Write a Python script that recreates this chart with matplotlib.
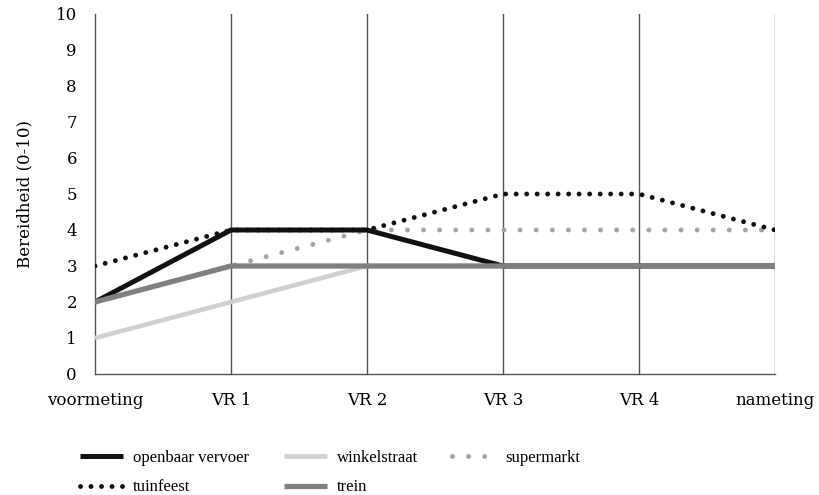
import matplotlib
matplotlib.use("Agg")
import matplotlib.pyplot as plt

categories = ["voormeting", "VR 1", "VR 2", "VR 3", "VR 4", "nameting"]
openbaar_vervoer = [2, 4, 4, 3, 3, 3]
winkelstraat = [1, 2, 3, 3, 3, 3]
supermarkt = [2, 3, 4, 4, 4, 4]
tuinfeest = [3, 4, 4, 5, 5, 4]
trein = [2, 3, 3, 3, 3, 3]
yticks = list(range(0, 11))
ylabel = "Bereidheid (0-10)"

plt.rcParams['font.family'] = ['DejaVu Serif']

fig = plt.figure(figsize=(8.2, 4.95), dpi=100)
ax = fig.add_axes([95/820, 1 - 374/495, 680/820, 360/495])

x = list(range(len(categories)))

ax.plot(x, winkelstraat, color="#d0d0d0", lw=3.3, solid_capstyle="butt", zorder=3, label="winkelstraat")
ax.plot(x, supermarkt, color="#a3a3a3", lw=3.5, linestyle=(0, (0.01, 3.3)), dash_capstyle="round", zorder=4, label="supermarkt")
ax.plot(x, tuinfeest, color="#111111", lw=3.5, linestyle=(0, (0.01, 2.15)), dash_capstyle="round", zorder=5, label="tuinfeest")
ax.plot(x, openbaar_vervoer, color="#111111", lw=3.6, solid_capstyle="butt", zorder=6, label="openbaar vervoer")
ax.plot(x, trein, color="#808080", lw=3.8, solid_capstyle="butt", zorder=7, label="trein")

ax.set_xlim(0, len(categories) - 1)
ax.set_ylim(0, 10)
ax.set_xticks(x)
ax.set_xticklabels(categories, fontsize=12)
ax.set_yticks(yticks)
ax.set_yticklabels([str(v) for v in yticks], fontsize=12)
ax.tick_params(length=0)
ax.tick_params(axis='x', pad=13)
ax.tick_params(axis='y', pad=13)

for s in ["top", "right"]:
    ax.spines[s].set_visible(False)
ax.spines["left"].set_color("#555555")
ax.spines["bottom"].set_color("#555555")
ax.spines["left"].set_linewidth(1.0)
ax.spines["bottom"].set_linewidth(1.0)
for xi in x[1:]:
    ax.axvline(xi, color="#555555", lw=1.0, zorder=1)

ax.set_ylabel(ylabel, fontsize=12, labelpad=16)

handles, labels = ax.get_legend_handles_labels()
order = ["openbaar vervoer", "tuinfeest", "winkelstraat", "trein", "supermarkt"]
hmap = dict(zip(labels, handles))
fig.legend([hmap[k] for k in order], order, ncol=3, frameon=False,
           loc="upper left", bbox_to_anchor=(80/820, 1 - 450/495),
           prop={'family': 'Liberation Serif', 'size': 12},
           handlelength=2.6, handletextpad=0.6,
           columnspacing=2.05, labelspacing=0.8, borderpad=0, borderaxespad=0)

fig.savefig("out.png", dpi=100)
